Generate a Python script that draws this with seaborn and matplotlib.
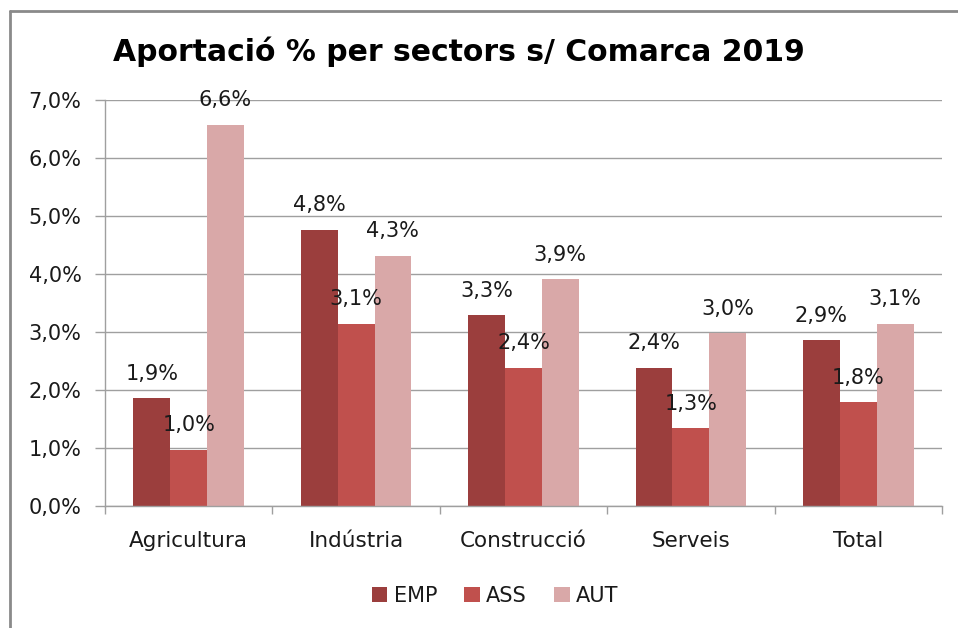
import matplotlib
matplotlib.use("Agg")
import matplotlib.pyplot as plt
import matplotlib.ticker as mticker
from matplotlib.patches import Patch
import seaborn as sns
import pandas as pd

categories = ["Agricultura", "Indústria", "Construcció", "Serveis", "Total"]
series = ["EMP", "ASS", "AUT"]
emp = [1.86, 4.76, 3.29, 2.38, 2.86]
ass = [0.97, 3.14, 2.38, 1.34, 1.79]
aut = [6.57, 4.31, 3.91, 2.98, 3.14]
colors = ["#9B3E3D", "#C0504D", "#D9A8A8"]
title = "Aportació % per sectors s/ Comarca 2019"

rows = []
for s, vals in zip(series, [emp, ass, aut]):
    for c, v in zip(categories, vals):
        rows.append({"cat": c, "serie": s, "val": v})
df = pd.DataFrame(rows)

sns.set_theme(style="white")
plt.rcParams["font.family"] = ["DejaVu Sans"]
txt = "#1a1a1a"
grid_c = "#9f9f9f"

fig = plt.figure(figsize=(9.58, 6.28), dpi=100)
ax = fig.add_axes([105/958, 1-506/628, (942-105)/958, (506-100)/628])

sns.barplot(data=df, x="cat", y="val", hue="serie", order=categories,
            hue_order=series, palette=colors, width=0.66, saturation=1,
            ax=ax, legend=False, linewidth=0)

def fmt(v):
    return f"{v:.1f}".replace(".", ",") + "%"

for cont in ax.containers:
    ax.bar_label(cont, labels=[fmt(b.get_height()) for b in cont],
                 padding=10.5, fontsize=15, color=txt)

ax.set_ylim(0, 7)
ax.set_xlim(-0.5, 4.5)
ax.yaxis.set_major_locator(mticker.MultipleLocator(1))
ax.yaxis.set_major_formatter(mticker.FuncFormatter(lambda y, p: fmt(y)))
ax.set_xlabel("")
ax.set_ylabel("")
ax.grid(axis="y", color=grid_c, linewidth=1)
ax.set_axisbelow(True)
for sp in ["top", "right"]:
    ax.spines[sp].set_visible(False)
for sp in ["left", "bottom"]:
    ax.spines[sp].set_color(grid_c)
    ax.spines[sp].set_linewidth(1)

ax.tick_params(axis="y", which="major", left=True, length=7, width=1,
               color=grid_c, labelsize=15, labelcolor=txt, pad=10)
ax.tick_params(axis="x", which="major", bottom=False, labelsize=15.5,
               labelcolor=txt, pad=12)
ax.xaxis.set_minor_locator(mticker.FixedLocator([-0.5, 0.5, 1.5, 2.5, 3.5, 4.5]))
ax.tick_params(axis="x", which="minor", bottom=True, length=6, width=1,
               color=grid_c)

fig.text(459/958, 1-52/628, title, ha="center", va="center",
         fontsize=21.5, fontweight="bold", color="black")

handles = [Patch(facecolor=c, edgecolor="none", label=s) for c, s in zip(colors, series)]
fig.legend(handles=handles, loc="center", bbox_to_anchor=(495/958, 1-596/628),
           ncol=3, frameon=False, fontsize=15, handlelength=0.75,
           handleheight=0.75, handletextpad=0.3, columnspacing=1.3,
           labelcolor=txt)

# outer chart border (partially cropped like the reference)
fig.add_artist(plt.Line2D([9.5/958, 9.5/958], [0, 1-11/628],
                          transform=fig.transFigure, color="#8a8a8a", lw=2))
fig.add_artist(plt.Line2D([9.5/958, 1], [1-11/628, 1-11/628],
                          transform=fig.transFigure, color="#8a8a8a", lw=2))

fig.savefig("out.png", dpi=100, facecolor="white")
